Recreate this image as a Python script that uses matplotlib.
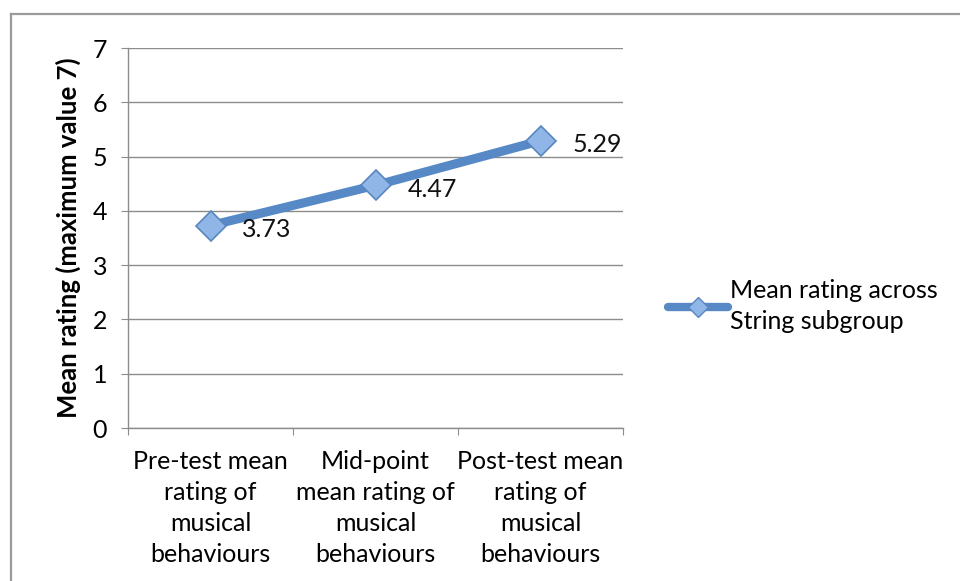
import matplotlib.pyplot as plt
from matplotlib.lines import Line2D

# data
categories = ['Pre-test mean\nrating of\nmusical\nbehaviours',
              'Mid-point\nmean rating of\nmusical\nbehaviours',
              'Post-test mean\nrating of\nmusical\nbehaviours']
values = [3.73, 4.47, 5.29]
series_name = 'Mean rating across\nString subgroup'

plt.rcParams['font.family'] = ['Lato', 'DejaVu Sans']

line_col = '#5689c6'
grid_col = '#8c8c8c'
fs = 18

fig = plt.figure(figsize=(9.6, 5.81), dpi=100)
ax = fig.add_axes([128 / 960, 1 - 428 / 581, (623 - 128) / 960, (428 - 48) / 581])

x = list(range(len(values)))
ax.plot(x, values, color=line_col, linewidth=6.5, solid_capstyle='round',
        marker='D', markersize=15, markerfacecolor='#8fb6e6',
        markeredgecolor='#5a86bf', markeredgewidth=1.2, zorder=3)

for xi, v in zip(x, values):
    ax.annotate(f'{v:.2f}', (xi, v), xytext=(23, -3), textcoords='offset points',
                ha='left', va='center', fontsize=fs, color='#111111')

ax.set_xlim(-0.5, len(values) - 0.5)
ax.set_ylim(0, 7)
ax.set_yticks(range(8))
ax.yaxis.grid(True, color=grid_col, linewidth=1)
ax.set_axisbelow(True)

# category boundaries as major ticks, labels on minor ticks
ax.set_xticks([i - 0.5 for i in range(len(values) + 1)])
ax.set_xticklabels([])
ax.set_xticks(x, minor=True)
ax.set_xticklabels(categories, minor=True, fontsize=fs, linespacing=1.42)
ax.tick_params(axis='x', which='minor', length=0, pad=16)
ax.tick_params(axis='x', which='major', length=5, color=grid_col, direction='out')
ax.tick_params(axis='y', length=5, color=grid_col, direction='out', labelsize=fs, pad=10)

for s in ['top', 'right']:
    ax.spines[s].set_visible(False)
for s in ['left', 'bottom']:
    ax.spines[s].set_color(grid_col)
    ax.spines[s].set_linewidth(1)

ax.set_ylabel('Mean rating (maximum value 7)', fontsize=18.5, fontweight='bold', labelpad=8)

handle = Line2D([], [], color=line_col, linewidth=6, solid_capstyle='round',
                marker='D', markersize=10, markerfacecolor='#8fb6e6',
                markeredgecolor='#5a86bf')
leg = fig.legend([handle], [series_name], loc='center left',
                 bbox_to_anchor=(655 / 960, 1 - 306 / 581), frameon=False, borderpad=0,
                 fontsize=fs, handlelength=2.4, handletextpad=0.1)
leg.get_texts()[0].set_linespacing(1.37)

# outer chart border (runs off the right and bottom edges)
fig.add_artist(Line2D([11 / 960, 11 / 960], [1 - 14 / 581, 0], color='#9a9a9a', linewidth=1.6))
fig.add_artist(Line2D([11 / 960, 1], [1 - 14 / 581, 1 - 14 / 581], color='#9a9a9a', linewidth=1.6))

fig.savefig('out.png', dpi=100)
